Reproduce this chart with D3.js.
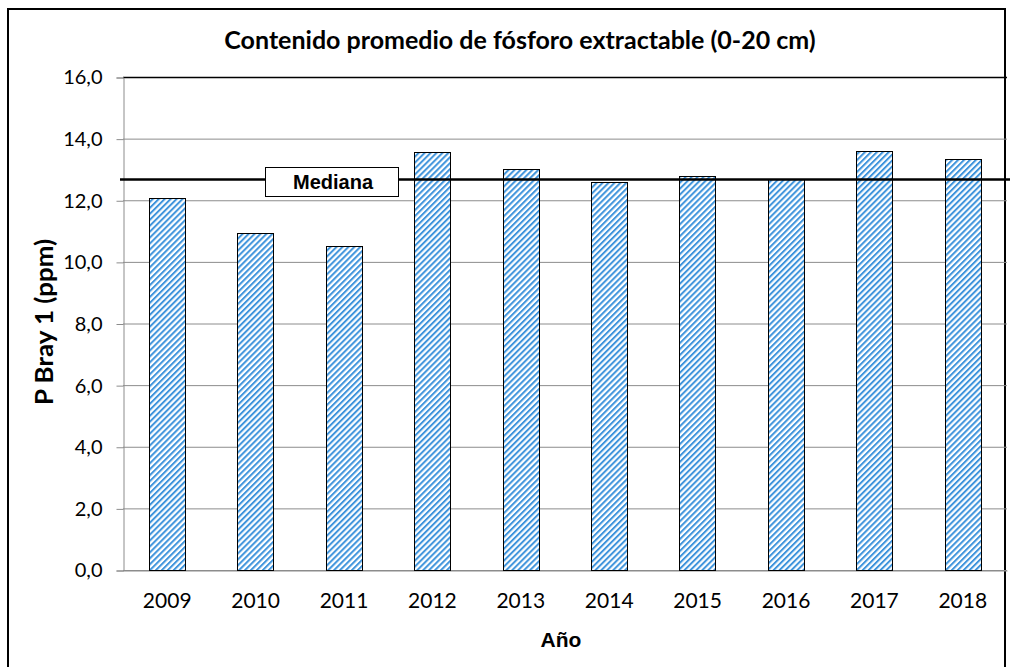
<!DOCTYPE html>
<html>
<head>
<meta charset="utf-8">
<script src="https://cdn.jsdelivr.net/npm/d3@7"></script>
<style>
body { margin: 0; background: #fff; }
svg text { fill: #000; }
</style>
</head>
<body>
<div id="chart"></div>
<script>
// datos del grafico
var years = ["2009", "2010", "2011", "2012", "2013", "2014", "2015", "2016", "2017", "2018"];
var pBray = [12.07, 10.94, 10.52, 13.57, 13.02, 12.59, 12.79, 12.68, 13.61, 13.35];
var mediana = 12.67;
var yTicks = [0, 2, 4, 6, 8, 10, 12, 14, 16];

var width = 1010, height = 667;
var margin = { left: 123, top: 77, right: 3, bottom: 97 };

var svg = d3.select("#chart").append("svg")
    .attr("width", width)
    .attr("height", height);

// patron de rayas diagonales
var defs = svg.append("defs");
var pat = defs.append("pattern")
    .attr("id", "rayas")
    .attr("patternUnits", "userSpaceOnUse")
    .attr("width", 4.2)
    .attr("height", 4.2)
    .attr("patternTransform", "rotate(45)");
pat.append("rect").attr("width", 4.2).attr("height", 4.2).attr("fill", "#fff");
pat.append("rect").attr("width", 2).attr("height", 4.2).attr("fill", "#3f94dc");

// marco exterior
svg.append("rect")
    .attr("x", 8).attr("y", 9)
    .attr("width", 997).attr("height", 662)
    .attr("fill", "none")
    .attr("stroke", "#000")
    .attr("stroke-width", 2);

var x = d3.scaleBand()
    .domain(years)
    .range([margin.left, width - margin.right])
    .paddingInner(0.59)
    .paddingOuter(0.295);

var y = d3.scaleLinear()
    .domain([0, 16])
    .range([height - margin.bottom, margin.top]);

// lineas de grilla
svg.selectAll(".grid")
    .data(yTicks)
    .enter().append("line")
    .attr("class", "grid")
    .attr("x1", margin.left)
    .attr("x2", width - margin.right)
    .attr("y1", function(d) { return y(d) + 0.5; })
    .attr("y2", function(d) { return y(d) + 0.5; })
    .style("stroke", function(d) { return d == 16 ? "#000" : "#8c8c8c"; })
    .style("stroke-width", function(d) { return d == 16 ? 1.3 : 1; });

// eje Y
var yAxis = svg.append("g")
    .attr("transform", "translate(" + (margin.left + 0.5) + ",0.5)")
    .call(d3.axisLeft(y).tickValues(yTicks).tickSize(7).tickPadding(14)
        .tickFormat(function(d) { return d3.format(".1f")(d).replace(".", ","); }));
yAxis.select(".domain").attr("stroke", "#8c8c8c");
yAxis.selectAll(".tick line").attr("stroke", "#8c8c8c");
yAxis.selectAll("text")
    .style("font-family", "Lato, 'Liberation Sans', sans-serif")
    .style("font-size", "20px");

// eje X
var xAxis = svg.append("g")
    .attr("transform", "translate(0," + (y(0) + 0.5) + ")")
    .call(d3.axisBottom(x).tickSize(0).tickPadding(23));
xAxis.select(".domain").attr("stroke", "#8c8c8c");
xAxis.selectAll("text")
    .style("font-family", "Lato, 'Liberation Sans', sans-serif")
    .style("font-size", "21px");

// barras
svg.selectAll(".bar")
    .data(pBray)
    .enter().append("rect")
    .attr("class", "bar")
    .attr("x", function(d, i) { return Math.round(x(years[i])) + 0.5; })
    .attr("y", function(d) { return Math.round(y(d)) + 0.5; })
    .attr("width", Math.round(x.bandwidth()))
    .attr("height", function(d) { return Math.round(y(0)) - Math.round(y(d)); })
    .style("fill", "url(#rayas)")
    .style("stroke", "#000")
    .style("stroke-width", 1);

// linea de mediana
svg.append("line")
    .attr("x1", 120)
    .attr("x2", width)
    .attr("y1", y(mediana))
    .attr("y2", y(mediana))
    .style("stroke", "#000")
    .style("stroke-width", 2.5);

svg.append("rect")
    .attr("x", 265.5).attr("y", 167.5)
    .attr("width", 133).attr("height", 29)
    .style("fill", "#fff")
    .style("stroke", "#000")
    .style("stroke-width", 1);
svg.append("text")
    .attr("x", 333).attr("y", 189)
    .attr("text-anchor", "middle")
    .style("font-family", "'Liberation Sans', Arial, sans-serif")
    .style("font-weight", "bold")
    .style("font-size", "20px")
    .text("Mediana");

// titulos
svg.append("text")
    .attr("x", 520).attr("y", 49)
    .attr("text-anchor", "middle")
    .style("font-family", "Lato, 'Liberation Sans', sans-serif")
    .style("font-weight", "bold")
    .style("font-size", "25px")
    .text("Contenido promedio de fósforo extractable (0-20 cm)");

svg.append("text")
    .attr("transform", "translate(53,322) rotate(-90)")
    .attr("text-anchor", "middle")
    .attr("textLength", 166)
    .attr("lengthAdjust", "spacingAndGlyphs")
    .style("font-family", "Lato, 'Liberation Sans', sans-serif")
    .style("font-weight", "bold")
    .style("font-size", "24px")
    .text("P Bray 1 (ppm)");

svg.append("text")
    .attr("x", 561).attr("y", 647)
    .attr("text-anchor", "middle")
    .style("font-family", "'Liberation Sans', Arial, sans-serif")
    .style("font-weight", "bold")
    .style("font-size", "21px")
    .text("Año");
</script>
</body>
</html>
